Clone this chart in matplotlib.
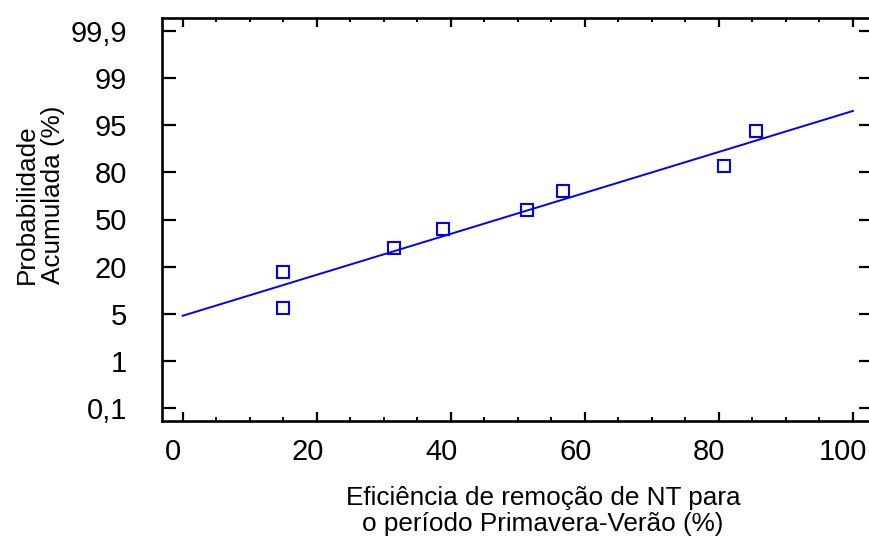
import matplotlib
matplotlib.use("Agg")
import matplotlib.pyplot as plt
import matplotlib.transforms as mtransforms
from matplotlib.ticker import MultipleLocator, FixedLocator

# -----------------------------
# Data
# -----------------------------
# x: removal efficiency (%); y: position on the probability axis,
# in units of the evenly spaced tick steps (0 = 50 %)
eficiencia = [15.0, 15.0, 31.6, 38.9, 51.3, 56.7, 80.8, 85.6]
prob_pos = [-1.87, -1.11, -0.61, -0.21, 0.21, 0.60, 1.13, 1.87]

# fitted line end points
ajuste_x = [0.0, 100.0]
ajuste_y = [-2.04, 2.30]

prob_labels = ["0,1", "1", "5", "20", "50", "80", "95", "99", "99,9"]
x_ticks = [0, 20, 40, 60, 80, 100]

x_label = "Eficiência de remoção de NT para\no período Primavera-Verão (%)"
y_label = "Probabilidade\nAcumulada (%)"

# -----------------------------
# Style
# -----------------------------
plt.rcParams["font.family"] = ["Liberation Sans", "DejaVu Sans"]
blue = "#0000ff"
tick_fs = 21
label_fs = 18.8

W, H = 869, 539
fig = plt.figure(figsize=(W / 100, H / 100), dpi=100)
ax = fig.add_axes([162 / W, 1 - 421 / H, (873 - 162) / W, (421 - 18) / H])

ax.plot(ajuste_x, ajuste_y, color=blue, linewidth=1.4)
ax.plot(eficiencia, prob_pos, linestyle="none", marker="s", markersize=8.5,
        markerfacecolor="none", markeredgecolor=blue, markeredgewidth=1.5)

ax.set_xlim(-3.09, 103.0)
ax.set_ylim(-4.27, 4.27)

# x axis: majors every 20, minors every 5, ticks on top and bottom, inward
ax.xaxis.set_major_locator(FixedLocator(x_ticks))
ax.xaxis.set_minor_locator(MultipleLocator(5))
ax.set_xticklabels([str(v) for v in x_ticks])
ax.tick_params(axis="x", which="major", direction="in", top=True, bottom=True,
               length=6.5, width=1.6, labelsize=tick_fs, pad=12)
ax.tick_params(axis="x", which="minor", direction="in", top=True, bottom=True,
               length=3, width=1.4)

# y axis: evenly spaced probability labels
n = len(prob_labels)
ax.yaxis.set_major_locator(FixedLocator([i - (n - 1) / 2 for i in range(n)]))
ax.set_yticklabels(prob_labels)
ax.tick_params(axis="y", which="major", direction="in", left=True, right=True,
               length=10, width=1.6, labelsize=tick_fs, pad=25)

for sp in ax.spines.values():
    sp.set_linewidth(1.9)

# x tick labels sit slightly left of their ticks
shift = mtransforms.ScaledTranslation(-9.5 / 100, 0, fig.dpi_scale_trans)
for lab in ax.get_xticklabels():
    lab.set_transform(lab.get_transform() + shift)

# axis titles
fig.text(543 / W, 1 - 511 / H, x_label, fontsize=label_fs, ha="center",
         va="center", multialignment="center", linespacing=1.15)
fig.text(40 / W, 1 - 284 / H, y_label, fontsize=label_fs, rotation=90,
         ha="center", va="bottom", multialignment="left", linespacing=1.15)

fig.savefig("out.png", dpi=100)
